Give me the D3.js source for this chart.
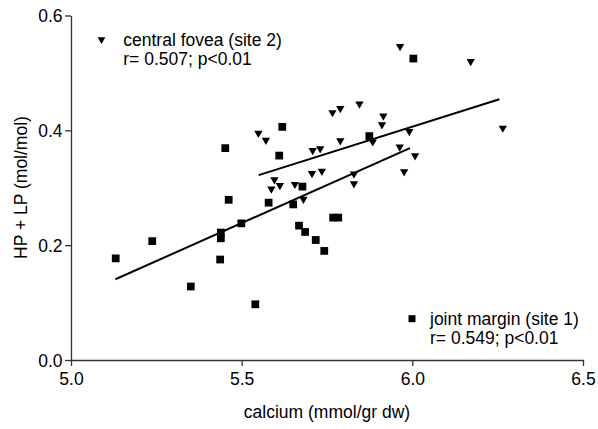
<!DOCTYPE html>
<html><head><meta charset="utf-8">
<script src="https://cdn.jsdelivr.net/npm/d3@7"></script>
<style>body{margin:0;background:#fff}svg{display:block}text{font-family:"Liberation Sans",Arial,sans-serif;fill:#000}</style>
</head><body>
<svg id="c" width="598" height="429"></svg>
<script>
// joint margin (site 1) - squares
const jointX = [5.131,5.238,5.351,5.437,5.439,5.439,5.499,5.540,5.452,5.462,5.579,5.619,5.610,5.651,5.678,5.768,5.783,5.668,5.686,5.717,5.742,6.003,5.874];
const jointY = [0.177,0.207,0.128,0.175,0.222,0.212,0.238,0.097,0.369,0.279,0.274,0.406,0.356,0.271,0.302,0.248,0.248,0.234,0.223,0.209,0.190,0.525,0.390];
// central fovea (site 2) - triangles
const foveaX = [5.964,6.171,5.766,5.789,5.845,5.915,5.911,5.789,5.884,5.991,6.265,5.708,5.730,5.963,6.008,5.706,5.735,5.829,5.829,5.976,5.681,5.549,5.571,5.596,5.587,5.612,5.656];
const foveaY = [0.546,0.520,0.431,0.438,0.446,0.425,0.410,0.382,0.380,0.398,0.404,0.365,0.368,0.371,0.356,0.325,0.329,0.324,0.307,0.328,0.280,0.395,0.383,0.314,0.298,0.304,0.306];
// fitted regression lines (endpoints in data units)
const jointFitX = [5.130, 5.993];
const jointFitY = [0.1406, 0.369];
const foveaFitX = [5.550, 6.255];
const foveaFitY = [0.322, 0.454];
const xTicks = [5.0, 5.5, 6.0, 6.5];
const yTicks = [0.0, 0.2, 0.4, 0.6];
const legendFovea = ["central fovea (site 2)", "r= 0.507; p<0.01"];
const legendJoint = ["joint margin (site 1)", "r= 0.549; p<0.01"];
const xLabel = "calcium (mmol/gr dw)";
const yLabel = "HP + LP (mol/mol)";

const svg = d3.select("#c");
const x = d3.scaleLinear().domain([5, 6.5]).range([71, 583]);
const y = d3.scaleLinear().domain([0, 0.6]).range([360, 15.5]);
const fs = 17.5;

const xAxis = svg.append("g").attr("transform","translate(0,360)")
  .call(d3.axisBottom(x).tickValues(xTicks).tickFormat(d3.format(".1f")).tickSize(6).tickSizeOuter(0));
const yAxis = svg.append("g").attr("transform","translate(71,0)")
  .call(d3.axisLeft(y).tickValues(yTicks).tickFormat(d3.format(".1f")).tickSize(6).tickSizeOuter(0));
[xAxis, yAxis].forEach(g => {
  g.select(".domain").attr("stroke","#333").attr("stroke-width",1.3);
  g.selectAll(".tick line").attr("stroke","#333").attr("stroke-width",1.3);
  g.selectAll(".tick text").attr("font-size",fs).attr("font-family","Liberation Sans, Arial, sans-serif").attr("fill","#000");
});
xAxis.selectAll(".tick text").attr("dy",null).attr("y",25);
yAxis.selectAll(".tick text").attr("x",-8.5).attr("dy","0.36em");

svg.append("text").attr("x",327).attr("y",418).attr("text-anchor","middle").attr("font-size",fs).text(xLabel);
svg.append("text").attr("transform","translate(27,187.5) rotate(-90)").attr("text-anchor","middle").attr("font-size",fs).text(yLabel);

// fit lines
const line = d3.line().x(d=>x(d[0])).y(d=>y(d[1]));
svg.append("path").attr("d", line(d3.zip(jointFitX, jointFitY))).attr("stroke","#000").attr("stroke-width",2).attr("fill","none");
svg.append("path").attr("d", line(d3.zip(foveaFitX, foveaFitY))).attr("stroke","#000").attr("stroke-width",2).attr("fill","none");

const sq = d3.symbol().type(d3.symbolSquare).size(60);
const tri = d3.symbol().type(d3.symbolTriangle).size(30);

svg.append("g").selectAll("path").data(d3.zip(jointX, jointY)).join("path")
  .attr("d", sq).attr("transform", d=>`translate(${x(d[0])},${y(d[1])})`).attr("fill","#000");
svg.append("g").selectAll("path").data(d3.zip(foveaX, foveaY)).join("path")
  .attr("d", tri).attr("transform", d=>`translate(${x(d[0])},${y(d[1])}) rotate(180)`).attr("fill","#000");

// legends
svg.append("path").attr("d", d3.symbol().type(d3.symbolTriangle).size(26)).attr("transform","translate(101.5,39.5) rotate(180)").attr("fill","#000");
legendFovea.forEach((t,i)=> svg.append("text").attr("x",123.3).attr("y",46+i*18.7).attr("font-size",fs).text(t));
svg.append("path").attr("d", d3.symbol().type(d3.symbolSquare).size(49)).attr("transform","translate(412,318.7)").attr("fill","#000");
legendJoint.forEach((t,i)=> svg.append("text").attr("x",430).attr("y",325+i*19).attr("font-size",fs).text(t));
</script>
</body></html>
